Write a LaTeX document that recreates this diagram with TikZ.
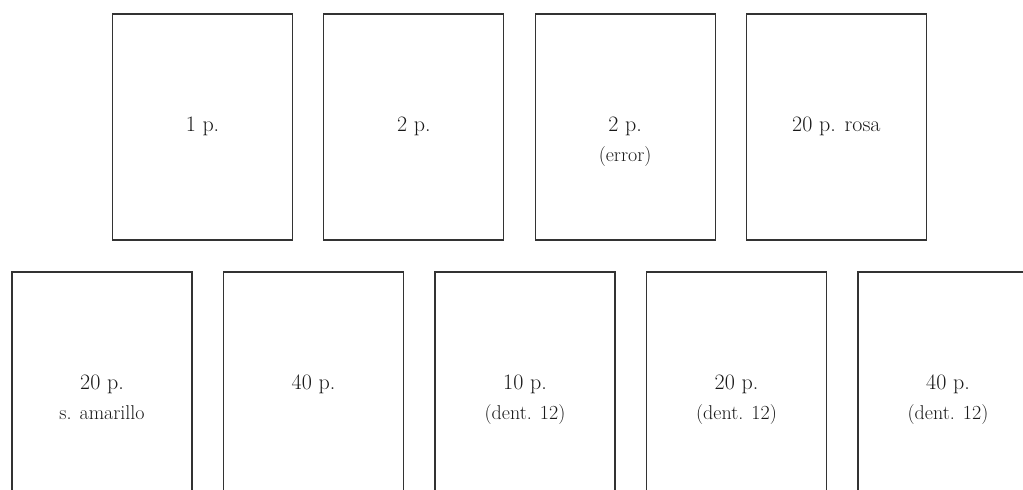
\documentclass[tikz,border=0pt]{standalone}
\usepackage{tikz}
\usetikzlibrary{positioning}
\tikzset{
  sheet/.style={draw=black!80, line width=1.1pt, minimum width=180pt,
                minimum height=226pt, inner sep=0pt},
  sheettext/.style={anchor=base, align=center, text=black!90,
                    font=\fontsize{22}{30}\selectfont},
  sheettwo/.style={sheettext, yshift=-30pt},
}
\newcommand{\subline}[1]{{\fontsize{20}{30}\selectfont #1}}

\begin{document}
\begin{tikzpicture}[x=1pt, y=-1pt]
    \useasboundingbox (0,0) rectangle (1023,490);
    \clip (0,0) rectangle (1023,490);
    % upper row
    \node[sheet] (a1) at (202.5,127) {};
    \node[sheet, right=30.2pt of a1] (a2) {};
    \node[sheet, right=30.2pt of a2] (a3) {};
    \node[sheet, right=30.2pt of a3] (a4) {};
    % lower row, cut off at the bottom
    \node[sheet] (b1) at (102,385) {};
    \node[sheet, right=30.4pt of b1] (b2) {};
    \node[sheet, right=30.4pt of b2] (b3) {};
    \node[sheet, right=30.4pt of b3] (b4) {};
    \node[sheet, right=30.4pt of b4] (b5) {};
    % labels
    \node[sheettext] (la1) at ([yshift=-4pt]a1.center) {1 p.};
    \node[sheettext] (la2) at ([yshift=-4pt]a2.center) {2 p.};
    \node[sheettwo] (la3) at ([yshift=-4pt]a3.center) {2 p.\\\subline{(error)}};
    \node[sheettext] (la4) at ([yshift=-4pt]a4.center) {20 p. rosa};
    \node[sheettwo] (lb1) at ([yshift=-4pt]b1.center) {20 p.\\\subline{s. amarillo}};
    \node[sheettext] (lb2) at ([yshift=-4pt]b2.center) {40 p.};
    \node[sheettwo] (lb3) at ([yshift=-4pt]b3.center) {10 p.\\\subline{(dent. 12)}};
    \node[sheettwo] (lb4) at ([yshift=-4pt]b4.center) {20 p.\\\subline{(dent. 12)}};
    \node[sheettwo] (lb5) at ([yshift=-4pt]b5.center) {40 p.\\\subline{(dent. 12)}};
\end{tikzpicture}
\end{document}
